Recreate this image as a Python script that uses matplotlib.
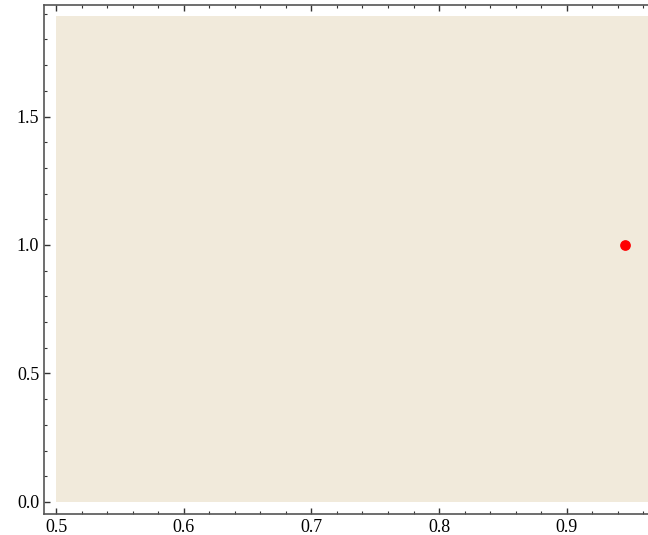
import matplotlib
matplotlib.use("Agg")
import matplotlib.pyplot as plt
from matplotlib.ticker import MultipleLocator

plt.rcParams['font.family'] = ['Liberation Serif', 'DejaVu Serif']

# shaded region (x range, y range) and the single point
region_x = [0.5, 0.97]
region_y = [0.0, 1.89]
point_x = [0.9456]
point_y = [1.0]

fig = plt.figure(figsize=(6.48, 5.35), dpi=100)
ax = fig.add_axes([44 / 648, 21 / 535, 604 / 648, 509 / 535])

ax.fill_between(region_x, region_y[0], region_y[1], color='#F1EADB', linewidth=0)
ax.scatter(point_x, point_y, s=45, color='red', zorder=3)

ax.set_xlim(0.4906, 0.9636)
ax.set_ylim(-0.047, 1.934)

ax.xaxis.set_major_locator(MultipleLocator(0.1))
ax.xaxis.set_minor_locator(MultipleLocator(0.02))
ax.yaxis.set_major_locator(MultipleLocator(0.5))
ax.yaxis.set_minor_locator(MultipleLocator(0.1))
ax.xaxis.set_major_formatter(plt.FormatStrFormatter('%.1f'))
ax.yaxis.set_major_formatter(plt.FormatStrFormatter('%.1f'))

ax.spines['right'].set_visible(False)
for s in ['left', 'bottom', 'top']:
    ax.spines[s].set_color('#555555')
    ax.spines[s].set_linewidth(1.2)

ax.tick_params(which='both', direction='in', top=True, right=False,
               labelsize=13, color='#333333')
ax.tick_params(which='major', length=4.5, width=1)
ax.tick_params(which='minor', length=2.5, width=0.8)

fig.savefig('out.png', dpi=100)
